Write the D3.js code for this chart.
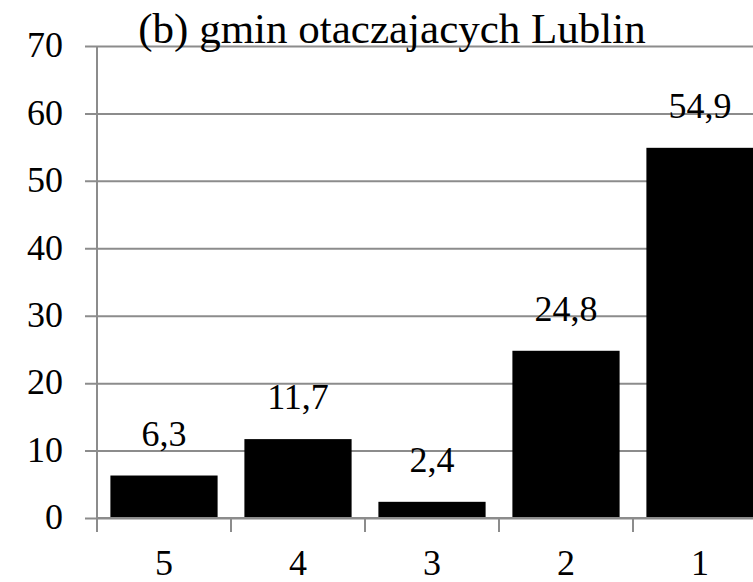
<!DOCTYPE html>
<html>
<head>
<meta charset="utf-8">
<script src="https://cdn.jsdelivr.net/npm/d3@7"></script>
<style>
  html, body { margin: 0; padding: 0; background: #fff; overflow: hidden; }
  svg { display: block; }
</style>
</head>
<body>
<div id="chart"></div>
<script>
// data
const categories = ["5", "4", "3", "2", "1"];
const values     = [6.3, 11.7, 2.4, 24.8, 54.9];
const yTicks     = [0, 10, 20, 30, 40, 50, 60, 70];
const title      = "(b) gmin otaczajacych Lublin";

(function () {
    const width = 753, height = 582;
    const FONT = "'Liberation Serif', 'Times New Roman', serif";
    const GRID = "#8c8c8c";
    const fmt = v => String(v).replace(".", ",");

    const svg = d3.select("#chart").append("svg")
        .attr("width", width).attr("height", height)
        .attr("font-family", FONT);

    // plot runs past the right edge (last bar is cropped in the original)
    const x = d3.scaleBand().domain(categories).range([97, 767])
        .paddingInner(0.2).paddingOuter(0.1);
    const y = d3.scaleLinear().domain([0, 70]).range([518, 46]);

    // gridlines + y axis labels
    const yAxis = d3.axisLeft(y).tickValues(yTicks).tickSize(12).tickPadding(22);
    const yG = svg.append("g").attr("transform", "translate(97,0)").call(yAxis);
    yG.attr("font-family", FONT);
    yG.select(".domain").remove();
    yG.selectAll(".tick line").attr("x1", -12).attr("x2", width - 97)
        .attr("stroke", GRID).attr("stroke-width", 2);
    yG.selectAll(".tick text").attr("font-size", 36).attr("dy", "0.3em")
        .attr("fill", "#000");

    // vertical axis line
    svg.append("line")
        .attr("x1", 97).attr("x2", 97).attr("y1", y(70)).attr("y2", y(0) + 14)
        .attr("stroke", GRID).attr("stroke-width", 2);

    // bars
    svg.selectAll(".bar").data(values).join("rect")
        .attr("class", "bar")
        .attr("x", (d, i) => x(categories[i]))
        .attr("y", d => y(d))
        .attr("width", x.bandwidth())
        .attr("height", d => y(0) - y(d))
        .attr("fill", "#000");

    // x axis: ticks sit between categories
    const edges = categories.map(c => x(c) - x.step() * 0.1)
        .concat([x(categories[categories.length - 1]) + x.step() * 0.9]);
    svg.selectAll(".xtick").data(edges).join("line")
        .attr("class", "xtick")
        .attr("x1", d => d).attr("x2", d => d)
        .attr("y1", y(0)).attr("y2", y(0) + 14)
        .attr("stroke", GRID).attr("stroke-width", 2);
    svg.append("line")
        .attr("x1", 97).attr("x2", width).attr("y1", y(0)).attr("y2", y(0))
        .attr("stroke", GRID).attr("stroke-width", 2);

    svg.selectAll(".xlab").data(categories).join("text")
        .attr("class", "xlab")
        .attr("x", d => x(d) + x.bandwidth() / 2)
        .attr("y", 575)
        .attr("text-anchor", "middle")
        .attr("font-size", 36)
        .text(d => d);

    // value labels
    svg.selectAll(".vlab").data(values).join("text")
        .attr("class", "vlab")
        .attr("x", (d, i) => x(categories[i]) + x.bandwidth() / 2)
        .attr("y", d => y(d) - 30)
        .attr("text-anchor", "middle")
        .attr("font-size", 36)
        .text(d => fmt(d));

    // title
    svg.append("text")
        .attr("x", 392).attr("y", 43)
        .attr("text-anchor", "middle")
        .attr("font-size", 43)
        .text(title);
})();
</script>
</body>
</html>
